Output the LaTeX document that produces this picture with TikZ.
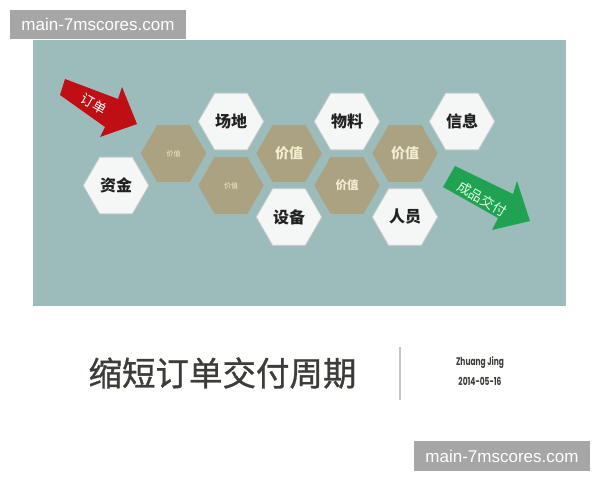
\documentclass[tikz,border=0pt]{standalone}
\usepackage{fontspec}
\setmainfont{Noto Sans CJK SC}
\newfontfamily\titlefont{Noto Sans CJK SC}[FakeBold=0.9]
\newfontfamily\wmfont{Liberation Sans}
\newfontfamily\namefont{Poppins}[FakeStretch=0.68]
\usetikzlibrary{shapes.geometric}
\definecolor{bgteal}{HTML}{9BBCBB}
\definecolor{khaki}{HTML}{AAA280}
\definecolor{hexwhite}{HTML}{F5F6F6}
\definecolor{hexedge}{HTML}{C6CCCB}
\definecolor{labeltext}{HTML}{222222}
\definecolor{cream}{HTML}{F2ECD3}
\definecolor{arrowred}{HTML}{C00F14}
\definecolor{arrowgreen}{HTML}{1FA252}
\definecolor{titlegray}{HTML}{3C3C38}
\definecolor{divgray}{HTML}{C4C4C4}
\definecolor{wmgray}{HTML}{A6A6A6}
\begin{document}
\begin{tikzpicture}[x=1pt,y=-1pt,
  hexbase/.style={regular polygon, regular polygon sides=6, minimum size=65.5pt, inner sep=0pt},
  whitehex/.style={hexbase, fill=hexwhite, draw=hexedge, line width=0.8pt, text=labeltext, font=\bfseries\fontsize{16}{16}\selectfont},
  valhex/.style={hexbase, fill=khaki, text=cream},
  valsmall/.style={valhex, font=\fontsize{7}{7}\selectfont},
  valmid/.style={valhex, font=\bfseries\fontsize{11.5}{11.5}\selectfont},
  valbig/.style={valhex, font=\bfseries\fontsize{14}{14}\selectfont},
  wmbox/.style={fill=wmgray, text=white, font=\wmfont\fontsize{17}{17}\selectfont, minimum width=176pt, minimum height=29.5pt, inner sep=0pt},
  arrowlabel/.style={rotate=-30, font=\fontsize{13.5}{13.5}\selectfont},
  namestyle/.style={text=titlegray, font=\namefont\bfseries\fontsize{11}{11}\selectfont}
]
\fill[white] (0,0) rectangle (600,480);
\useasboundingbox (0,0) rectangle (600,480);
% panel
\fill[bgteal] (33,40) rectangle (566,306);
% hexagons
\node[whitehex] (zijin) at (116,185.5) {资金};
\node[valsmall] (val1) at (173.5,153.5) {价值};
\node[whitehex] (changdi) at (231,121.5) {场地};
\node[valsmall] (val2) at (231,185.5) {价值};
\node[valbig] (val3) at (289,153.5) {价值};
\node[whitehex] (shebei) at (289,217) {设备};
\node[whitehex] (wuliao) at (347,121.5) {物料};
\node[valmid] (val4) at (347,185.5) {价值};
\node[valbig] (val5) at (405,153.5) {价值};
\node[whitehex] (renyuan) at (405,217) {人员};
\node[whitehex] (xinxi) at (462,121.5) {信息};
% red arrow
\fill[arrowred] (65,79) -- (118,99) -- (122,87) -- (137,124) -- (100,137) -- (105,127) -- (60,95) -- cycle;
\node[arrowlabel, text=white] (dingdan) at (94,104) {订单};
% green arrow
\fill[arrowgreen] (455,166) -- (513,194) -- (517,181) -- (530,221) -- (492,230) -- (498,218) -- (443,187) -- cycle;
\node[arrowlabel, text=white!90!green] (jiaofu) at (482,199) {成品交付};
% title
\node[text=titlegray, font=\titlefont\fontsize{33.5}{33.5}\selectfont] (title) at (222.5,373) {缩短订单交付周期};
\coordinate (divtop) at (400,347);
\coordinate (divbot) at (400,400);
\draw[divgray, line width=1.2pt] (divtop) -- (divbot);
\node[namestyle] (author) at (480,363) {Zhuang Jing};
\node[namestyle] (date) at (480,381.5) {2014-05-16};
% watermarks
\node[wmbox] (wm1) at (98,24.5) {main-7mscores.com};
\node[wmbox] (wm2) at (502,456) {main-7mscores.com};
\end{tikzpicture}
\end{document}
